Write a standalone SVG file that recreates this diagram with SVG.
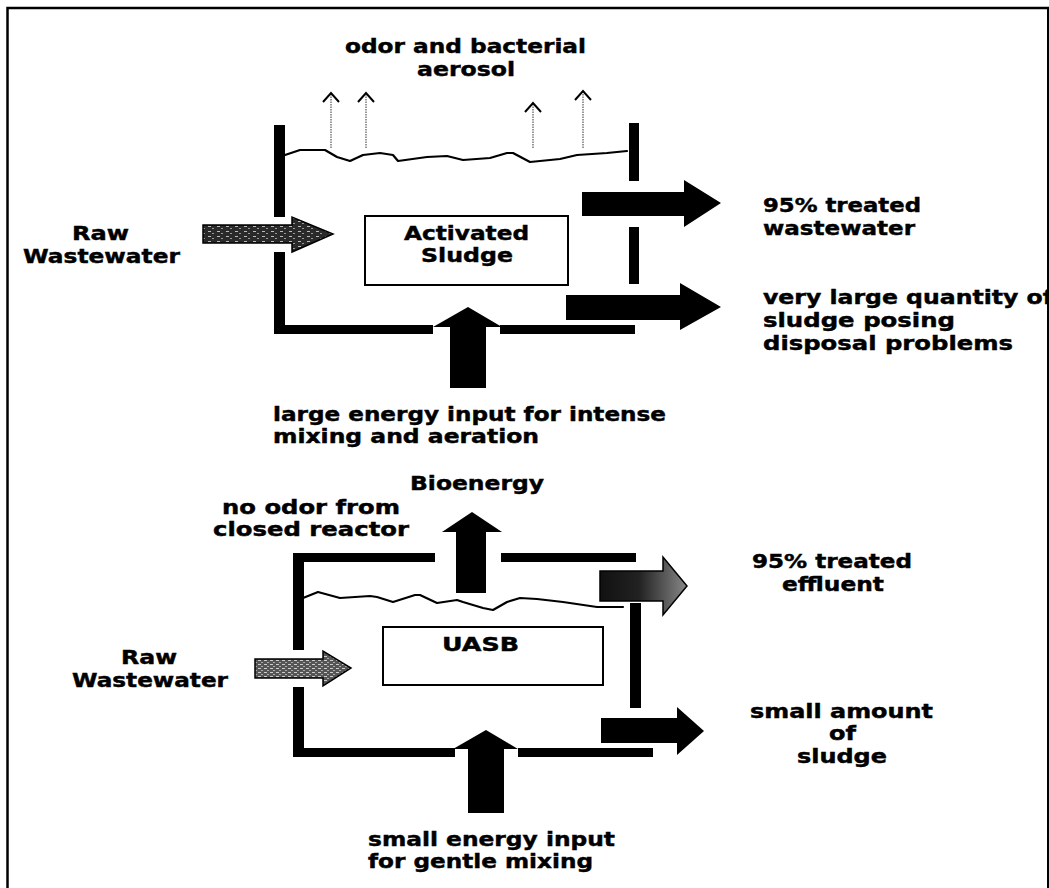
<svg xmlns="http://www.w3.org/2000/svg" width="1049" height="888" viewBox="0 0 1049 888">
<style>
text{font-family:"DejaVu Sans","Liberation Sans",Arial,sans-serif;font-weight:bold;font-size:20px;fill:#000;stroke:#000;stroke-width:0.45}
.wall{fill:#000}
.wave{fill:none;stroke:#000;stroke-width:2.2;stroke-linejoin:round;stroke-linecap:round}
.box{fill:#fff;stroke:#000;stroke-width:2}
.blk{fill:#000}
.aer{fill:none;stroke:#777;stroke-width:1.5;stroke-dasharray:1.5 1}
.chev{fill:none;stroke:#000;stroke-width:2}
</style>
<defs>
<pattern id="tex1" width="9" height="5" patternUnits="userSpaceOnUse">
<rect width="9" height="5" fill="#2a2a2a"/>
<rect x="1" y="1" width="3" height="1" fill="#bbb"/>
<rect x="5" y="3" width="2" height="1" fill="#999"/>
</pattern>
<pattern id="tex2" width="6" height="4" patternUnits="userSpaceOnUse">
<rect width="6" height="4" fill="#555"/>
<rect x="0" y="0" width="3" height="1" fill="#ccc"/>
<rect x="3" y="2" width="2" height="1" fill="#aaa"/>
</pattern>
<linearGradient id="eff" x1="0" x2="1" y1="0" y2="0">
<stop offset="0" stop-color="#111"/>
<stop offset="0.45" stop-color="#222"/>
<stop offset="1" stop-color="#888"/>
</linearGradient>
</defs>
<rect width="1049" height="888" fill="#fff"/>
<g id="frame">
<path d="M7.5,888 V8 H1049" fill="none" stroke="#000" stroke-width="2.5"/>
<line x1="1048" y1="8" x2="1048" y2="888" stroke="#000" stroke-width="2"/>
</g>

<g id="activated-sludge-tank">
<rect class="wall" x="274" y="125" width="11" height="92"/>
<rect class="wall" x="274" y="252" width="11" height="82"/>
<rect class="wall" x="274" y="325" width="159" height="9"/>
<rect class="wall" x="500" y="325" width="135" height="9"/>
<rect class="wall" x="629" y="123" width="10" height="58"/>
<rect class="wall" x="629" y="227" width="10" height="57"/>
<polyline class="wave" points="285,155 300,150 325,150 337,157 350,161 363,155 380,153 393,155 398,161 427,157 447,156 463,160 490,158 507,153 513,153 530,162 560,159 577,155 607,153 627,151"/>
</g>
<g id="activated-sludge">
<rect class="box" x="365" y="216" width="203" height="69"/>
<text x="404" y="240" textLength="125" lengthAdjust="spacingAndGlyphs">Activated</text>
<text x="421" y="262" textLength="92" lengthAdjust="spacingAndGlyphs">Sludge</text>
</g>
<g id="aerosol-label">
<text x="345" y="53" textLength="241" lengthAdjust="spacingAndGlyphs">odor and bacterial</text>
<text x="417" y="76" textLength="98" lengthAdjust="spacingAndGlyphs">aerosol</text>
</g>
<g id="raw-wastewater-1">
<text x="72" y="240" textLength="57" lengthAdjust="spacingAndGlyphs">Raw</text>
<text x="23" y="263" textLength="157" lengthAdjust="spacingAndGlyphs">Wastewater</text>
</g>
<g id="treated-wastewater">
<text x="763" y="212" textLength="158" lengthAdjust="spacingAndGlyphs">95% treated</text>
<text x="763" y="235" textLength="152" lengthAdjust="spacingAndGlyphs">wastewater</text>
</g>
<g id="large-sludge">
<text x="763" y="304" textLength="290" lengthAdjust="spacingAndGlyphs">very large quantity of</text>
<text x="763" y="327" textLength="192" lengthAdjust="spacingAndGlyphs">sludge posing</text>
<text x="763" y="350" textLength="250" lengthAdjust="spacingAndGlyphs">disposal problems</text>
</g>
<g id="large-energy">
<text x="273" y="421" textLength="393" lengthAdjust="spacingAndGlyphs">large energy input for intense</text>
<text x="273" y="443" textLength="266" lengthAdjust="spacingAndGlyphs">mixing and aeration</text>
</g>

<g id="uasb-tank">
<rect class="wall" x="293" y="553" width="142" height="9"/>
<rect class="wall" x="501" y="553" width="135" height="9"/>
<rect class="wall" x="293" y="553" width="11" height="97"/>
<rect class="wall" x="293" y="687" width="11" height="70"/>
<rect class="wall" x="293" y="748" width="162" height="9"/>
<rect class="wall" x="518" y="748" width="135" height="9"/>
<rect class="wall" x="630" y="603" width="11" height="105"/>
<polyline class="wave" points="303,598 318,592 340,598 370,596 377,597 393,602 415,595 420,595 437,603 457,600 463,602 483,608 493,610 507,602 520,598 537,599 563,602 597,607 623,607"/>
</g>
<g id="uasb">
<rect class="box" x="383" y="627" width="220" height="58"/>
<text x="442" y="651" textLength="77" lengthAdjust="spacingAndGlyphs">UASB</text>
</g>
<g id="bioenergy">
<text x="410" y="490" textLength="134" lengthAdjust="spacingAndGlyphs">Bioenergy</text>
</g>
<g id="no-odor">
<text x="222" y="514" textLength="178" lengthAdjust="spacingAndGlyphs">no odor from</text>
<text x="213" y="536" textLength="196" lengthAdjust="spacingAndGlyphs">closed reactor</text>
</g>
<g id="raw-wastewater-2">
<text x="121" y="664" textLength="56" lengthAdjust="spacingAndGlyphs">Raw</text>
<text x="72" y="687" textLength="156" lengthAdjust="spacingAndGlyphs">Wastewater</text>
</g>
<g id="treated-effluent">
<text x="752" y="568" textLength="160" lengthAdjust="spacingAndGlyphs">95% treated</text>
<text x="782" y="591" textLength="102" lengthAdjust="spacingAndGlyphs">effluent</text>
</g>
<g id="small-sludge">
<text x="750" y="718" textLength="183" lengthAdjust="spacingAndGlyphs">small amount</text>
<text x="829" y="740" textLength="27" lengthAdjust="spacingAndGlyphs">of</text>
<text x="797" y="763" textLength="90" lengthAdjust="spacingAndGlyphs">sludge</text>
</g>
<g id="small-energy">
<text x="368" y="846" textLength="247" lengthAdjust="spacingAndGlyphs">small energy input</text>
<text x="368" y="868" textLength="225" lengthAdjust="spacingAndGlyphs">for gentle mixing</text>
</g>

<g id="connectors">
<line class="aer" x1="331" y1="148" x2="331" y2="93"/>
<polyline class="chev" points="323,102 331,93 339,102"/>
<line class="aer" x1="366" y1="148" x2="366" y2="93"/>
<polyline class="chev" points="358,102 366,93 374,102"/>
<line class="aer" x1="533" y1="148" x2="533" y2="103"/>
<polyline class="chev" points="525,112 533,103 541,112"/>
<line class="aer" x1="583" y1="148" x2="583" y2="91"/>
<polyline class="chev" points="575,100 583,91 591,100"/>
<polygon fill="url(#tex1)" stroke="#000" stroke-width="1.5" points="203,225 292,225 292,217 333,234 292,252 292,243 203,243"/>
<polygon class="blk" points="582,192 684,192 684,180 721,203 684,227 684,216 582,216"/>
<polygon class="blk" points="566,295 680,295 680,283 721,307 680,330 680,320 566,320"/>
<polygon class="blk" points="450,388 450,327 433,327 468,307 502,327 486,327 486,388"/>
<polygon class="blk" points="456,593 456,532 442,532 472,512 502,532 486,532 486,593"/>
<polygon fill="url(#eff)" stroke="#000" stroke-width="1.5" points="600,571 663,571 663,557 687,586 663,615 663,601 600,601"/>
<polygon class="blk" points="601,718 677,718 677,707 704,731 677,755 677,743 601,743"/>
<polygon class="blk" points="468,813 468,749 453,749 486,730 518,749 504,749 504,813"/>
<polygon fill="url(#tex2)" stroke="#000" stroke-width="1.5" points="255,659 323,659 323,651 351,668 323,686 323,678 255,678"/>
</g>
</svg>
